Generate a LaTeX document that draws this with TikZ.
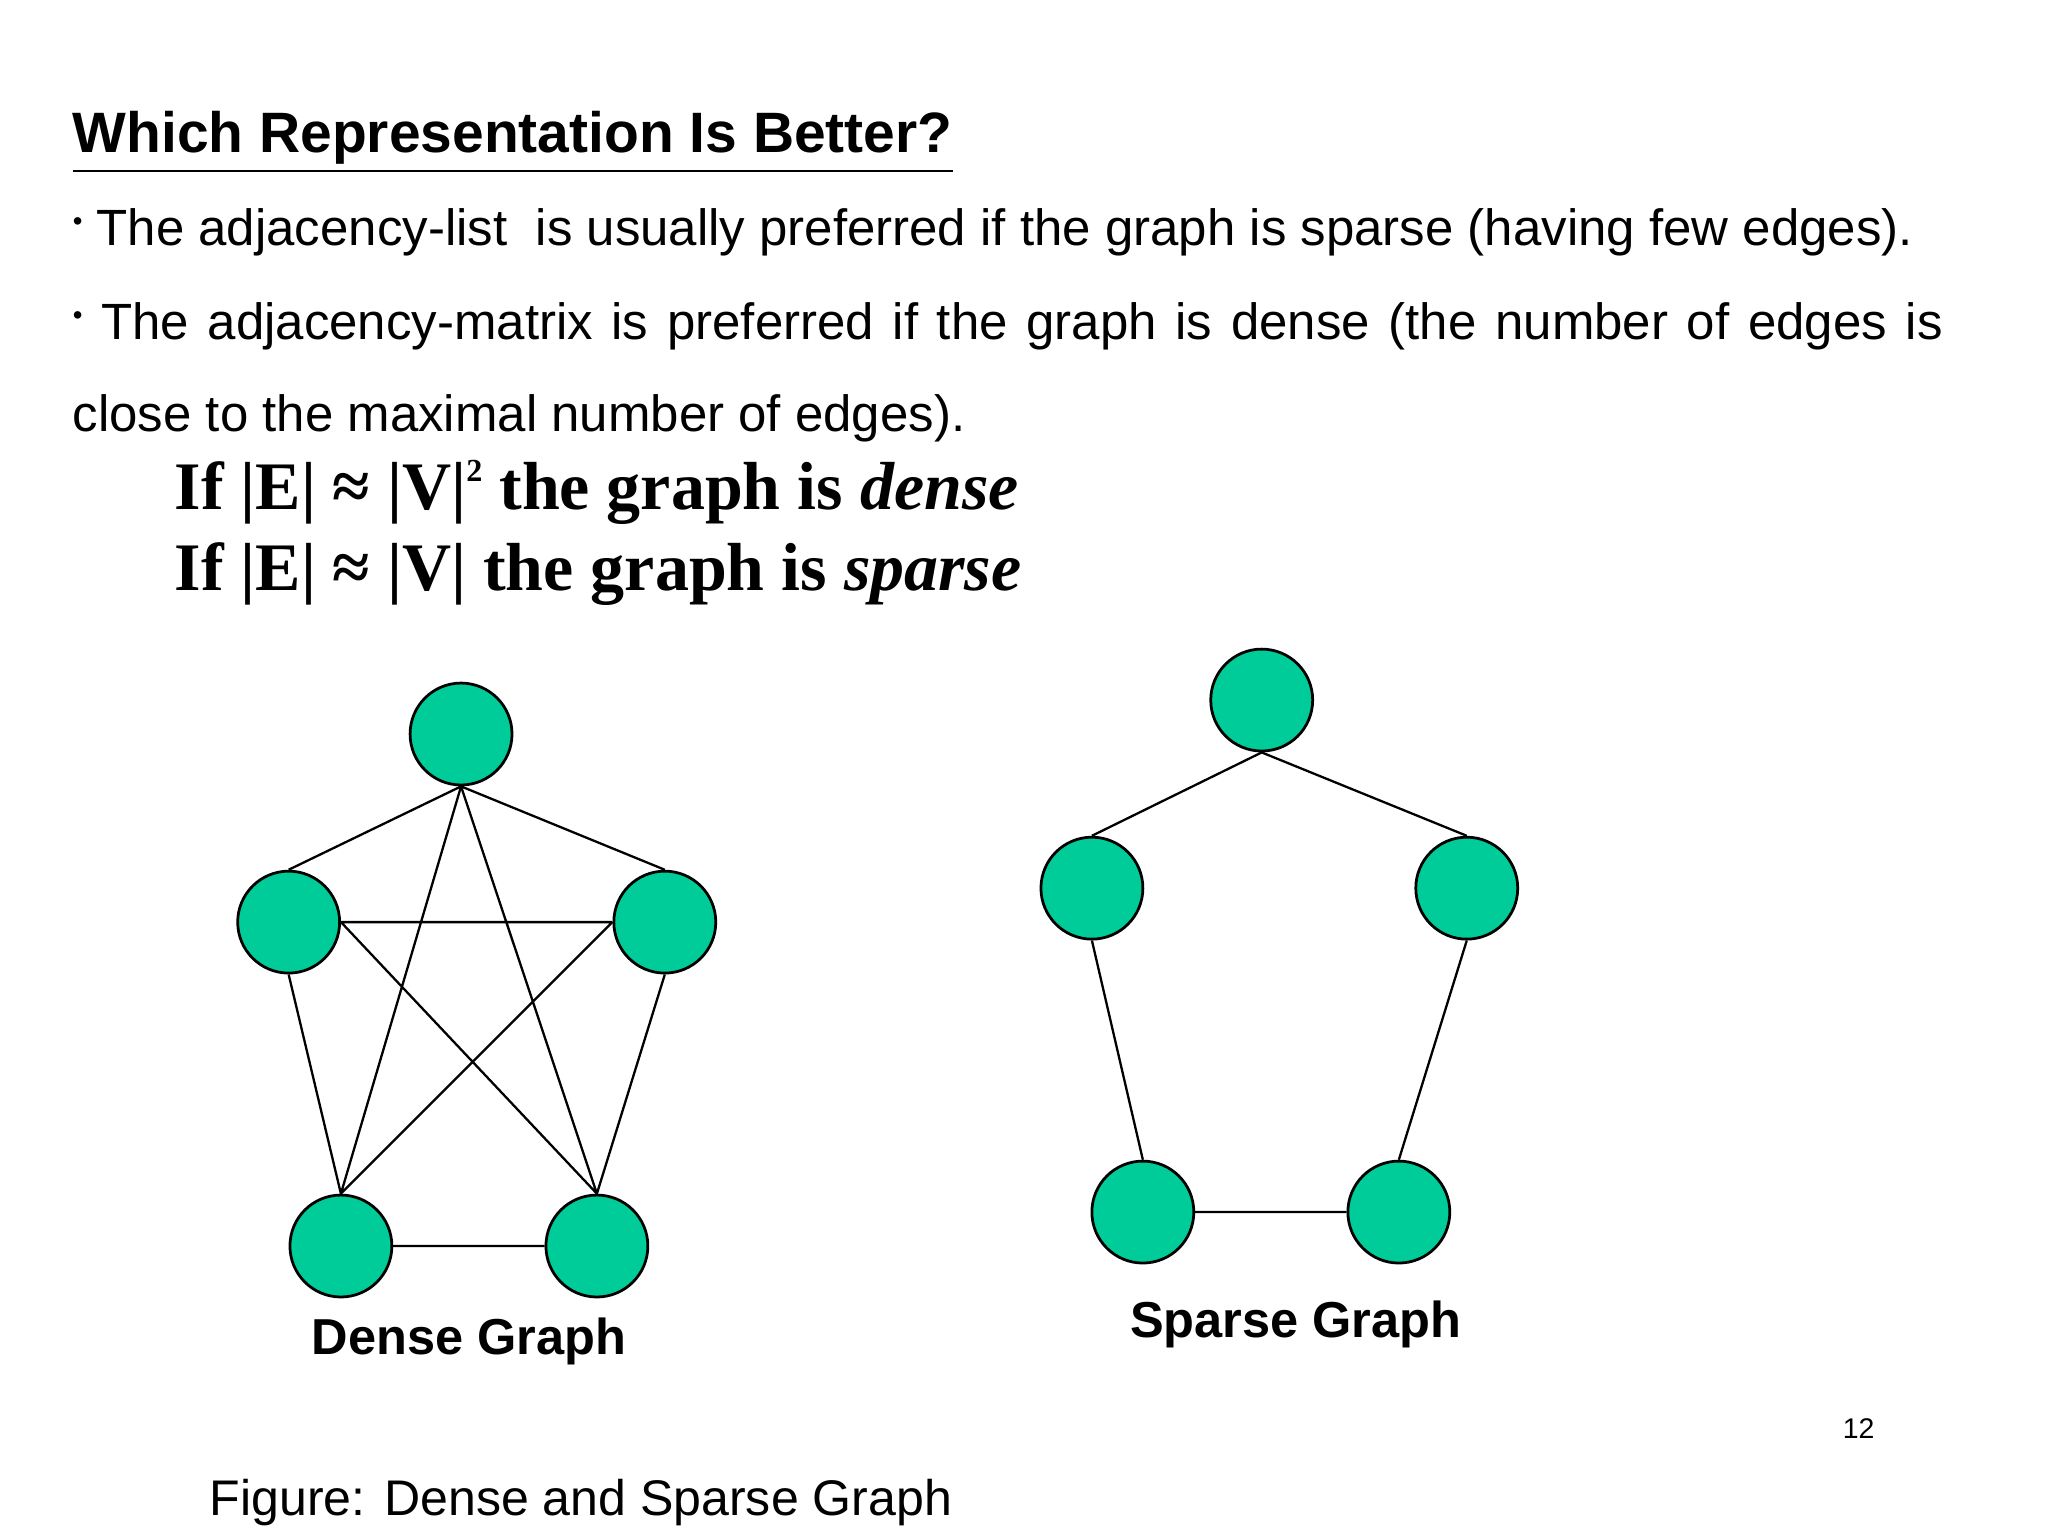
\documentclass[tikz,border=0pt]{standalone}
\usepackage{fontspec}
\setmainfont{Liberation Sans}
\newfontfamily\timesf{Liberation Serif}
\definecolor{vert}{HTML}{00CC99}
\newcommand{\bul}{\raisebox{0.55ex}{\fontsize{6}{6}\selectfont•}}
\begin{document}
\begin{tikzpicture}[x=0.01cm,y=-0.01cm,
  vtx/.style={circle,draw=black,fill=vert,minimum size=0.78cm,inner sep=0pt,line width=0.6pt},
  txt/.style={anchor=base west,inner sep=0pt},
  edge/.style={line width=0.5pt}]
\useasboundingbox (0,0) rectangle (1568,1176);
\node[txt,font=\bfseries\fontsize{12.4}{14}\selectfont] (title) at (55,117) {\underline{Which Representation Is Better?}};
\node[txt,font=\fontsize{11.1}{14}\selectfont] (b1) at (55,188) {\bul\ The adjacency-list\ \ is usually preferred if the graph is sparse (having few edges).};
\node[anchor=north west,inner sep=0pt,text width=14.31cm,align=justify,font=\fontsize{11.1}{20}\selectfont] (b2) at (55,231) {\bul\ The adjacency-matrix is preferred if the graph is dense (the number of edges is close to the maximal number of edges).};
\node[txt,font=\timesf\bfseries\fontsize{14.8}{16}\selectfont] (m1) at (133,390) {If |E| ≈ |V|\raisebox{0.9ex}{\fontsize{7}{7}\selectfont 2} the graph is \textit{dense}};
\node[txt,font=\timesf\bfseries\fontsize{14.8}{16}\selectfont] (m2) at (133,452) {If |E| ≈ |V| the graph is \textit{sparse}};
% dense
\node[vtx] (a) at (353,562) {};
\node[vtx] (b) at (221,706) {};
\node[vtx] (c) at (509,706) {};
\node[vtx] (d) at (261,954) {};
\node[vtx] (e) at (457,954) {};
\draw[edge] (a.south) -- (b.north) (a.south) -- (c.north) (a.south) -- (d.north) (a.south) -- (e.north)
 (b.east) -- (c.west) (b.south) -- (d.north) (b.east) -- (e.north) (c.west) -- (d.north) (c.south) -- (e.north) (d.east) -- (e.west);
% sparse
\node[vtx] (p) at (966,536) {};
\node[vtx] (q) at (836,680) {};
\node[vtx] (r) at (1123,680) {};
\node[vtx] (s) at (875,928) {};
\node[vtx] (t) at (1071,928) {};
\draw[edge] (p.south) -- (q.north) (p.south) -- (r.north) (q.south) -- (s.north) (r.south) -- (t.north) (s.east) -- (t.west);
\node[font=\bfseries\fontsize{11.0}{12}\selectfont] (ld) at (359,1027) {Dense Graph};
\node[font=\bfseries\fontsize{11.0}{12}\selectfont] (ls) at (992,1014) {Sparse Graph};
\node[font=\fontsize{6.2}{8}\selectfont] (pg) at (1423,1094) {12};
\node[txt,font=\fontsize{10.9}{12}\selectfont] (fig) at (160,1160) {Figure: Dense and Sparse Graph};
\end{tikzpicture}
\end{document}
